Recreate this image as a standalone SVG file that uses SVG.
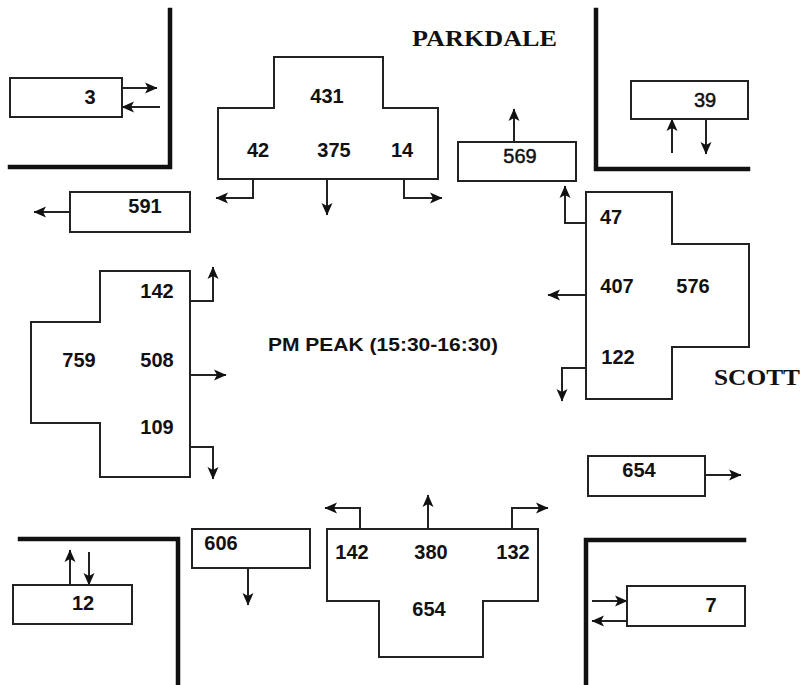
<svg xmlns="http://www.w3.org/2000/svg" width="800" height="685" viewBox="0 0 800 685">
<style>
.wall{fill:none;stroke:#111;stroke-width:4.5;stroke-linecap:square}
.box{fill:#fff;stroke:#222;stroke-width:2}
.arr{fill:none;stroke:#222;stroke-width:2;marker-end:url(#ah)}
.num{font-family:"Liberation Sans",Arial,sans-serif;font-weight:bold;font-size:20px;fill:#111;text-anchor:middle}
.lt{font-weight:normal;stroke:#111;stroke-width:0.5}
.street{font-family:"Liberation Serif","Times New Roman",serif;font-weight:bold;font-size:24px;fill:#111}
.title{font-family:"Liberation Sans",Arial,sans-serif;font-weight:bold;font-size:18px;fill:#111}
</style>
<defs>
<marker id="ah" markerUnits="userSpaceOnUse" markerWidth="14" markerHeight="14" refX="12" refY="7" orient="auto">
<path d="M0,1.5 L12.5,7 L0,12.5 L3,7 z" fill="#111"/>
</marker>
</defs>
<rect width="800" height="685" fill="#fff"/>

<g id="corners">
<polyline class="wall" points="170,10 170,167 10,167"/>
<polyline class="wall" points="596,10 596,169 748,169"/>
<polyline class="wall" points="20,539 178,539 178,685"/>
<polyline class="wall" points="744,540 586,540 586,685"/>
</g>

<g id="labels">
<text class="street" x="412" y="46" textLength="145" lengthAdjust="spacingAndGlyphs">PARKDALE</text>
<text class="street" x="714" y="385" textLength="86" lengthAdjust="spacingAndGlyphs">SCOTT</text>
<text class="title" x="268" y="351" textLength="230" lengthAdjust="spacingAndGlyphs">PM PEAK (15:30-16:30)</text>
</g>

<g id="connectors">
<line class="arr" x1="122" y1="88" x2="157" y2="88"/>
<line class="arr" x1="160" y1="107" x2="122" y2="107"/>
<line class="arr" x1="70" y1="212" x2="34" y2="212"/>
<polyline class="arr" points="253,179 253,198 216,198"/>
<line class="arr" x1="327" y1="179" x2="327" y2="215"/>
<polyline class="arr" points="404,179 404,198 442,198"/>
<line class="arr" x1="514" y1="142" x2="514" y2="109"/>
<line class="arr" x1="672" y1="153" x2="672" y2="119"/>
<line class="arr" x1="706" y1="119" x2="706" y2="154"/>
<polyline class="arr" points="586,223 565,223 565,186"/>
<line class="arr" x1="586" y1="295" x2="548" y2="295"/>
<polyline class="arr" points="586,368 562,368 562,401"/>
<polyline class="arr" points="190,301 213,301 213,267"/>
<line class="arr" x1="190" y1="375" x2="226" y2="375"/>
<polyline class="arr" points="190,447 213,447 213,479"/>
<line class="arr" x1="705" y1="475" x2="741" y2="475"/>
<line class="arr" x1="592" y1="601" x2="627" y2="601"/>
<line class="arr" x1="627" y1="621" x2="592" y2="621"/>
<line class="arr" x1="70" y1="585" x2="70" y2="550"/>
<line class="arr" x1="89" y1="552" x2="89" y2="585"/>
<line class="arr" x1="248" y1="568" x2="248" y2="605"/>
<polyline class="arr" points="360,529 360,508 325,508"/>
<line class="arr" x1="428" y1="529" x2="428" y2="495"/>
<polyline class="arr" points="512,529 512,508 548,508"/>
</g>

<g id="box-3"><rect class="box" x="10" y="78" width="112" height="39"/><text class="num" x="90" y="104">3</text></g>
<g id="box-591"><rect class="box" x="70" y="192" width="120" height="40"/><text class="num" x="145" y="213">591</text></g>
<g id="box-569"><rect class="box" x="458" y="142" width="118" height="39"/><text class="num lt" x="520" y="163">569</text></g>
<g id="box-39"><rect class="box" x="631" y="81" width="117" height="38"/><text class="num lt" x="705" y="107">39</text></g>
<g id="box-654r"><rect class="box" x="588" y="456" width="117" height="40"/><text class="num" x="639" y="477">654</text></g>
<g id="box-7"><rect class="box" x="627" y="586" width="118" height="40"/><text class="num" x="711" y="612">7</text></g>
<g id="box-12"><rect class="box" x="13" y="585" width="119" height="39"/><text class="num" x="83" y="610">12</text></g>
<g id="box-606"><rect class="box" x="192" y="529" width="118" height="39"/><text class="num" x="221" y="550">606</text></g>

<g id="north-approach">
<path class="box" d="M274,57 H383 V108 H438 V179 H218 V108 H274 Z"/>
<text class="num" x="327" y="103">431</text>
<text class="num" x="258" y="157">42</text>
<text class="num" x="334" y="157">375</text>
<text class="num" x="402" y="157">14</text>
</g>

<g id="east-approach">
<path class="box" d="M586,192 H672 V244 H749 V347 H672 V399 H586 Z"/>
<text class="num" x="611" y="224">47</text>
<text class="num" x="617" y="293">407</text>
<text class="num" x="693" y="293">576</text>
<text class="num" x="618" y="364">122</text>
</g>

<g id="west-approach">
<path class="box" d="M100,271 H190 V477 H100 V423 H31 V322 H100 Z"/>
<text class="num" x="157" y="298">142</text>
<text class="num" x="79" y="367">759</text>
<text class="num" x="157" y="367">508</text>
<text class="num" x="157" y="434">109</text>
</g>

<g id="south-approach">
<path class="box" d="M327,529 H538 V601 H483 V657 H379 V601 H327 Z"/>
<text class="num" x="352" y="559">142</text>
<text class="num" x="431" y="559">380</text>
<text class="num" x="513" y="559">132</text>
<text class="num" x="429" y="616">654</text>
</g>
</svg>
